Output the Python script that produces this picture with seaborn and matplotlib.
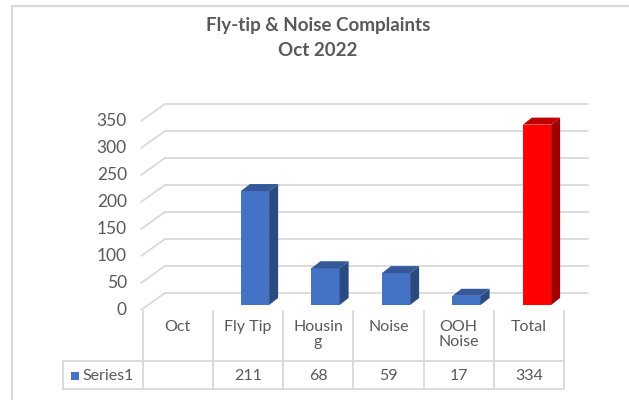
import numpy as np
import pandas as pd
import matplotlib
matplotlib.use('Agg')
import matplotlib.pyplot as plt
from matplotlib.lines import Line2D
from matplotlib.patches import Polygon, Rectangle
import seaborn as sns

# --- data ---
categories = ['Oct', 'Fly Tip', 'Housing', 'Noise', 'OOH Noise', 'Total']
header_labels = ['Oct', 'Fly Tip', 'Housin\ng', 'Noise', 'OOH\nNoise', 'Total']
values = [np.nan, 211, 68, 59, 17, 334]
series_name = 'Series1'
y_ticks = [0, 50, 100, 150, 200, 250, 300, 350]
title = 'Fly-tip & Noise Complaints\nOct 2022'

df = pd.DataFrame({'cat': categories, 'value': values})

# --- colours ---
BLUE, BLUE_SIDE, BLUE_TOP = '#4472C4', '#2C4A82', '#34589A'
RED, RED_SIDE, RED_TOP = '#FF0000', '#A00000', '#C00000'
GRID = '#D9D9D9'
TEXT = '#595959'
palette = {c: BLUE for c in categories}
palette['Total'] = RED
side_col = {BLUE: BLUE_SIDE, RED: RED_SIDE}
top_col = {BLUE: BLUE_TOP, RED: RED_TOP}

sns.set_style('white')
plt.rcParams['font.family'] = ['Lato', 'DejaVu Sans']

W, H = 629, 400
fig = plt.figure(figsize=(W / 100, H / 100), dpi=100)

def fx(x):
    return x / W

def fy(y):
    return 1 - y / H

# pixel geometry of the bar plane
X0, XS = 184.5, 70.5     # px of category 0, px per category
Y0, YS = 305.0, 0.54     # px of value 0, px per unit
box = (130, 95, 600, 312)  # left, top, right, bottom in px
ax = fig.add_axes([fx(box[0]), fy(box[3]), fx(box[2] - box[0]), (box[3] - box[1]) / H])

sns.barplot(data=df, x='cat', y='value', hue='cat', palette=palette, order=categories,
            hue_order=categories, width=0.4, linewidth=0, saturation=1, legend=False,
            ax=ax, zorder=3)

ax.set_xlim((box[0] - X0) / XS, (box[2] - X0) / XS)
ax.set_ylim((Y0 - box[3]) / YS, (Y0 - box[1]) / YS)
ax.axis('off')

# depth offsets (data units)
FRONT_DX, FRONT_DY = -0.117, -9.3
BACK_DX, BACK_DY = 0.223, 22.2
left_edge, right_edge = -0.5, 5.5

# back wall and side wall gridlines
for v in y_ticks:
    ax.plot([left_edge + BACK_DX, right_edge + BACK_DX], [v + BACK_DY, v + BACK_DY],
            color=GRID, lw=1.3, zorder=1)
    ax.plot([left_edge + FRONT_DX, left_edge + BACK_DX], [v + FRONT_DY, v + BACK_DY],
            color=GRID, lw=1.3, zorder=1)
    ax.text(left_edge + FRONT_DX - 0.2, v + FRONT_DY, str(v), ha='right', va='center',
            fontsize=12.5, color=TEXT)

# 3D side and top faces for each bar
DX, DY = 0.128, 13.0
for patch in list(ax.patches):
    h = patch.get_height()
    if not np.isfinite(h) or h == 0:
        continue
    x, w = patch.get_x(), patch.get_width()
    col = palette[categories[int(round(x + w / 2))]]
    ax.add_patch(Polygon([(x + w, 0), (x + w + DX, DY), (x + w + DX, h + DY), (x + w, h)],
                         closed=True, facecolor=side_col[col], edgecolor='none', zorder=3))
    ax.add_patch(Polygon([(x, h), (x + DX, h + DY), (x + w + DX, h + DY), (x + w, h)],
                         closed=True, facecolor=top_col[col], edgecolor='none', zorder=3))

# title
fig.text(fx(318), fy(38), title, ha='center', va='center', fontsize=13.5, fontweight='bold',
         color=TEXT, linespacing=1.55)

# data table
def hline(y, x1, x2):
    fig.add_artist(Line2D([fx(x1), fx(x2)], [fy(y), fy(y)], color=GRID, lw=1.3))

def vline(x, y1, y2):
    fig.add_artist(Line2D([fx(x), fx(x)], [fy(y1), fy(y2)], color=GRID, lw=1.3))

col_x0, col_w = 142.5, 70.25
for k in range(len(categories) + 1):
    vline(col_x0 + col_w * k, 311, 389)
vline(63, 361, 389)
hline(361, 63, col_x0 + col_w * len(categories))
hline(389, 63, col_x0 + col_w * len(categories))

for k, (lab, v) in enumerate(zip(header_labels, values)):
    cx = col_x0 + col_w * (k + 0.5)
    fig.text(fx(cx), fy(320), lab, ha='center', va='top', fontsize=11.5, color=TEXT,
             linespacing=1.05)
    if np.isfinite(v):
        fig.text(fx(cx), fy(376), f'{v:.0f}', ha='center', va='center', fontsize=11.5,
                 color=TEXT)

fig.add_artist(Rectangle((fx(71), fy(380)), fx(8), 8 / H, facecolor=BLUE,
                         edgecolor='none', transform=fig.transFigure))
fig.text(fx(82), fy(376), series_name, ha='left', va='center', fontsize=11.5, color=TEXT)

# chart border
fig.add_artist(Line2D([fx(12), fx(12), fx(629)], [fy(400), fy(6), fy(6)], color=GRID, lw=1.6))

fig.savefig('out.png', dpi=100)
